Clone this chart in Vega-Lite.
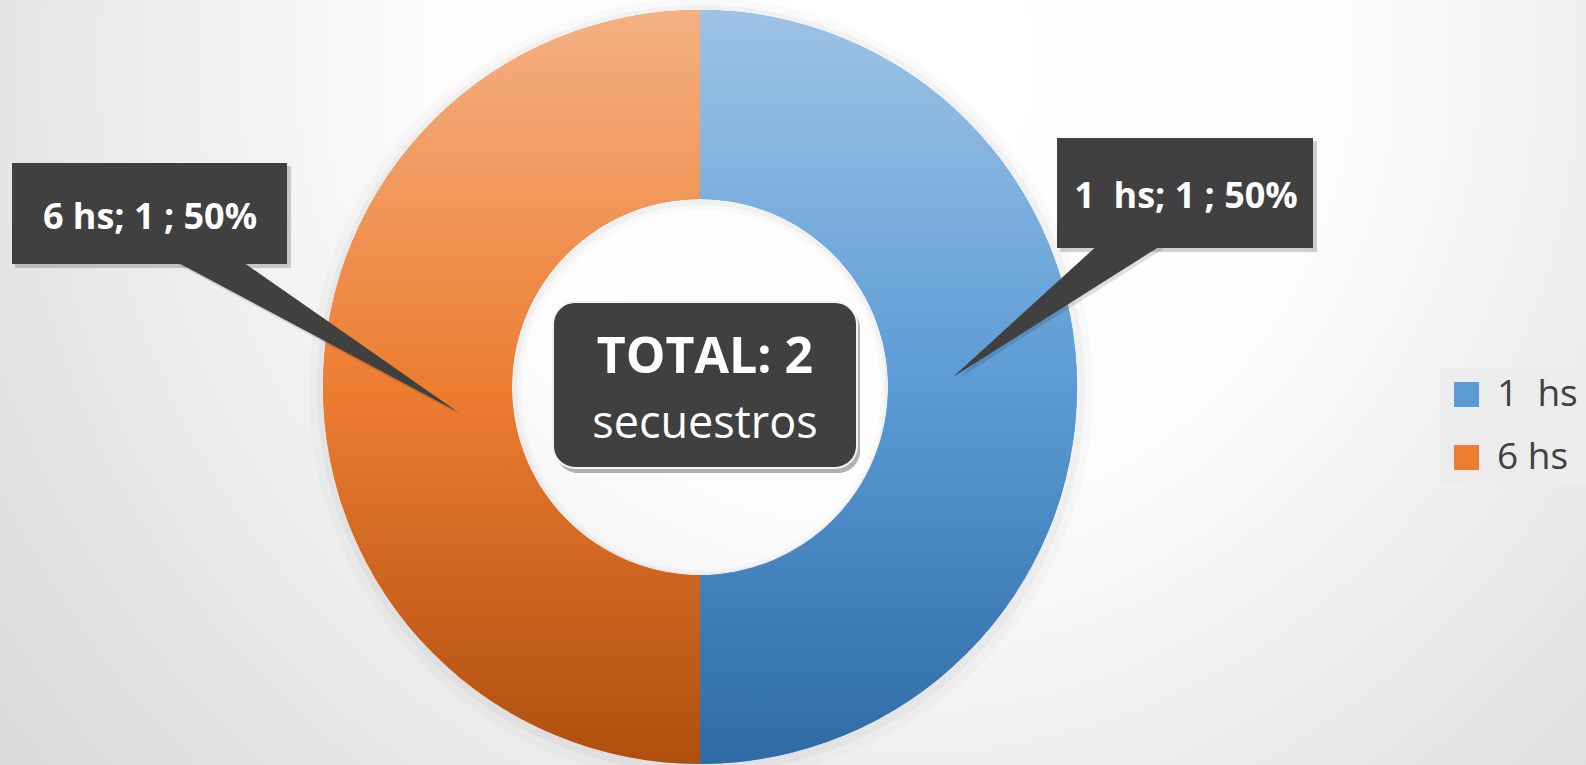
{
  "$schema": "https://vega.github.io/schema/vega-lite/v6.json",
  "width": 1586,
  "height": 765,
  "padding": 0,
  "autosize": "none",
  "background": "#ffffff",
  "view": {
    "stroke": null,
    "fill": {
      "gradient": "radial",
      "x1": 0.56, "y1": 0.3, "r1": 0,
      "x2": 0.56, "y2": 0.3, "r2": 0.78,
      "stops": [
        {"offset": 0, "color": "#ffffff"},
        {"offset": 0.35, "color": "#fdfdfd"},
        {"offset": 0.7, "color": "#e6e6e6"},
        {"offset": 1, "color": "#d4d4d4"}
      ]
    }
  },
  "config": {"font": "Open Sans"},
  "datasets": {
    "franjas": [
      {"franja": "1  hs", "secuestros": 1},
      {"franja": "6 hs", "secuestros": 1}
    ],
    "nota": [{}]
  },
  "layer": [
    {
      "data": {"name": "franjas"},
      "mark": {"type": "arc", "radius": 392, "radius2": 180, "fill": "#000000", "opacity": 0.02},
      "encoding": {
        "theta": {"field": "secuestros", "type": "quantitative", "stack": true},
        "x": {"datum": 701, "type": "quantitative", "scale": {"domain": [0, 1586], "nice": false, "zero": false}, "axis": null},
        "y": {"datum": 390, "type": "quantitative", "scale": {"domain": [0, 765], "reverse": true, "nice": false, "zero": false}, "axis": null}
      }
    },
    {
      "data": {"name": "franjas"},
      "mark": {"type": "arc", "radius": 384, "radius2": 184, "fill": "#000000", "opacity": 0.03},
      "encoding": {
        "theta": {"field": "secuestros", "type": "quantitative", "stack": true},
        "x": {"datum": 701, "type": "quantitative", "axis": null},
        "y": {"datum": 389, "type": "quantitative", "axis": null}
      }
    },
    {
      "data": {"name": "franjas"},
      "mark": {"type": "arc", "radius": 377, "radius2": 188},
      "encoding": {
        "theta": {"field": "secuestros", "type": "quantitative", "stack": true},
        "color": {
          "field": "franja",
          "type": "nominal",
          "scale": {"domain": ["1  hs", "6 hs"], "range": ["#5B9BD5", "#ED7D31"]},
          "legend": {
            "orient": "none",
            "legendX": 1440,
            "legendY": 368,
            "title": null,
            "symbolType": "square",
            "symbolSize": 625,
            "symbolStrokeWidth": 0,
            "labelFontSize": 37,
            "labelFont": "Open Sans",
            "labelColor": "#404040",
            "labelOffset": 12,
            "labelExpr": "replace(datum.label, '  ', '\u00a0 ')",
            "rowPadding": 25,
            "padding": 8,
            "fillColor": "#ececec"
          }
        },
        "x": {"datum": 700, "type": "quantitative", "axis": null},
        "y": {"datum": 387, "type": "quantitative", "axis": null}
      }
    },
    {
      "data": {"name": "franjas"},
      "mark": {"type": "arc", "radius": 377, "radius2": 188},
      "encoding": {
        "theta": {"field": "secuestros", "type": "quantitative", "stack": true},
        "order": {"field": "franja", "type": "nominal"},
        "fill": {
          "condition": {
            "test": "datum.franja === '1  hs'",
            "value": {"gradient": "linear", "x1": 0, "y1": 0, "x2": 0, "y2": 1,
              "stops": [{"offset": 0, "color": "#9DC3E6"}, {"offset": 0.5, "color": "#5B9BD5"}, {"offset": 1, "color": "#2D6AA6"}]}
          },
          "value": {"gradient": "linear", "x1": 0, "y1": 0, "x2": 0, "y2": 1,
            "stops": [{"offset": 0, "color": "#F4B183"}, {"offset": 0.5, "color": "#ED7D31"}, {"offset": 1, "color": "#B04E0F"}]}
        },
        "x": {"datum": 700, "type": "quantitative", "axis": null},
        "y": {"datum": 387, "type": "quantitative", "axis": null}
      }
    },
    {
      "data": {"name": "nota"},
      "mark": {"type": "rect", "fill": "#000000", "opacity": 0.18},
      "encoding": {
        "x": {"datum": 15, "type": "quantitative", "axis": null}, "x2": {"datum": 291},
        "y": {"datum": 166, "type": "quantitative", "axis": null}, "y2": {"datum": 268}
      }
    },
    {
      "data": {"name": "nota"},
      "mark": {"type": "point", "shape": "M0,0 L-285,-152 L-218,-152 Z", "size": 4, "filled": true, "fill": "#000000", "opacity": 0.12},
      "encoding": {
        "x": {"datum": 460, "type": "quantitative", "axis": null},
        "y": {"datum": 415, "type": "quantitative", "axis": null}
      }
    },
    {
      "data": {"name": "nota"},
      "mark": {"type": "rect", "fill": "#404040"},
      "encoding": {
        "x": {"datum": 12, "type": "quantitative", "axis": null}, "x2": {"datum": 287},
        "y": {"datum": 163, "type": "quantitative", "axis": null}, "y2": {"datum": 264}
      }
    },
    {
      "data": {"name": "nota"},
      "mark": {"type": "point", "shape": "M0,0 L-285,-152 L-218,-152 Z", "size": 4, "filled": true, "fill": "#404040", "opacity": 1},
      "encoding": {
        "x": {"datum": 458, "type": "quantitative", "axis": null},
        "y": {"datum": 412, "type": "quantitative", "axis": null}
      }
    },
    {
      "data": {"name": "nota"},
      "mark": {"type": "text", "text": "6 hs; 1 ; 50%", "fontSize": 36, "fontWeight": "bold", "fill": "#ffffff", "align": "center", "baseline": "alphabetic"},
      "encoding": {
        "x": {"datum": 150, "type": "quantitative", "axis": null},
        "y": {"datum": 229, "type": "quantitative", "axis": null}
      }
    },
    {
      "data": {"name": "nota"},
      "mark": {"type": "rect", "fill": "#000000", "opacity": 0.18},
      "encoding": {
        "x": {"datum": 1060, "type": "quantitative", "axis": null}, "x2": {"datum": 1317},
        "y": {"datum": 141, "type": "quantitative", "axis": null}, "y2": {"datum": 252}
      }
    },
    {
      "data": {"name": "nota"},
      "mark": {"type": "point", "shape": "M0,0 L147,-134 L212,-134 Z", "size": 4, "filled": true, "fill": "#000000", "opacity": 0.12},
      "encoding": {
        "x": {"datum": 956, "type": "quantitative", "axis": null},
        "y": {"datum": 380, "type": "quantitative", "axis": null}
      }
    },
    {
      "data": {"name": "nota"},
      "mark": {"type": "rect", "fill": "#404040"},
      "encoding": {
        "x": {"datum": 1057, "type": "quantitative", "axis": null}, "x2": {"datum": 1313},
        "y": {"datum": 138, "type": "quantitative", "axis": null}, "y2": {"datum": 248}
      }
    },
    {
      "data": {"name": "nota"},
      "mark": {"type": "point", "shape": "M0,0 L147,-134 L212,-134 Z", "size": 4, "filled": true, "fill": "#404040", "opacity": 1},
      "encoding": {
        "x": {"datum": 953, "type": "quantitative", "axis": null},
        "y": {"datum": 377, "type": "quantitative", "axis": null}
      }
    },
    {
      "data": {"name": "nota"},
      "mark": {"type": "text", "text": "1\u00a0 hs; 1 ; 50%", "fontSize": 36, "fontWeight": "bold", "fill": "#ffffff", "align": "center", "baseline": "alphabetic"},
      "encoding": {
        "x": {"datum": 1186, "type": "quantitative", "axis": null},
        "y": {"datum": 208, "type": "quantitative", "axis": null}
      }
    },
    {
      "data": {"name": "nota"},
      "mark": {"type": "rect", "fill": "#000000", "opacity": 0.3, "cornerRadius": 22},
      "encoding": {
        "x": {"datum": 556, "type": "quantitative", "axis": null}, "x2": {"datum": 860},
        "y": {"datum": 306, "type": "quantitative", "axis": null}, "y2": {"datum": 473}
      }
    },
    {
      "data": {"name": "nota"},
      "mark": {"type": "rect", "fill": "#404040", "stroke": "#f2f2f2", "strokeWidth": 2, "cornerRadius": 22},
      "encoding": {
        "x": {"datum": 553, "type": "quantitative", "axis": null}, "x2": {"datum": 857},
        "y": {"datum": 302, "type": "quantitative", "axis": null}, "y2": {"datum": 468}
      }
    },
    {
      "data": {"name": "nota"},
      "mark": {"type": "text", "text": "TOTAL: 2", "fontSize": 50, "fontWeight": "bold", "fill": "#ffffff", "align": "center", "baseline": "alphabetic"},
      "encoding": {
        "x": {"datum": 705, "type": "quantitative", "axis": null},
        "y": {"datum": 373, "type": "quantitative", "axis": null}
      }
    },
    {
      "data": {"name": "nota"},
      "mark": {"type": "text", "text": "secuestros", "fontSize": 45, "fontWeight": "normal", "fill": "#ffffff", "align": "center", "baseline": "alphabetic"},
      "encoding": {
        "x": {"datum": 705, "type": "quantitative", "axis": null},
        "y": {"datum": 438, "type": "quantitative", "axis": null}
      }
    }
  ]
}
